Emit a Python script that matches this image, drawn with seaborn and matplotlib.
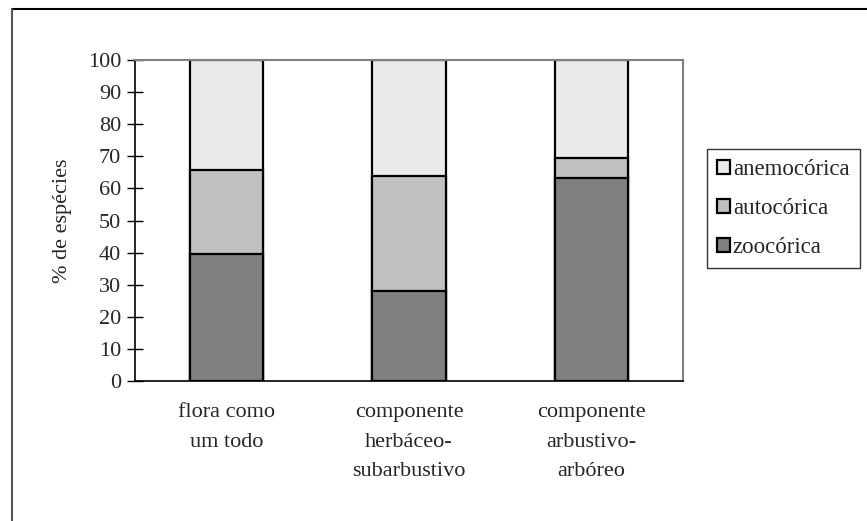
import pandas as pd
import numpy as np
import matplotlib.pyplot as plt
import seaborn as sns
from matplotlib.lines import Line2D
from matplotlib.patches import Patch

sns.set_style("white")
plt.rcParams["font.family"] = ["Liberation Serif", "DejaVu Serif"]

# Data
categories = ["flora como\num todo", "componente\nherbáceo-\nsubarbustivo", "componente\narbustivo-\narbóreo"]
zoocorica = [39.5, 28.0, 63.3]
autocorica = [26.3, 36.0, 6.2]
anemocorica = [34.2, 36.0, 30.5]

df = pd.DataFrame({
    "categoria": categories,
    "zoocórica": zoocorica,
    "autocórica": autocorica,
    "anemocórica": anemocorica,
})
df["top_auto"] = df["zoocórica"] + df["autocórica"]
df["top_anemo"] = df["top_auto"] + df["anemocórica"]

fig = plt.figure(figsize=(8.67, 5.21), dpi=100)
ax = fig.add_axes([0.1557, 0.2687, 0.6321, 0.6161])

colors = {"anemocórica": "#eaeaea", "autocórica": "#c0c0c0", "zoocórica": "#808080"}
bar_kw = dict(width=0.4, edgecolor="black", linewidth=1.6, ax=ax)

# stacked by drawing cumulative heights back to front
sns.barplot(data=df, x="categoria", y="top_anemo", color=colors["anemocórica"], saturation=1, **bar_kw)
sns.barplot(data=df, x="categoria", y="top_auto", color=colors["autocórica"], saturation=1, **bar_kw)
sns.barplot(data=df, x="categoria", y="zoocórica", color=colors["zoocórica"], saturation=1, **bar_kw)

ax.set_xlim(-0.5, 2.5)
ax.set_ylim(0, 100)
ax.set_yticks(np.arange(0, 101, 10))
ax.set_xlabel("")
ax.set_ylabel("% de espécies", fontsize=16, labelpad=11)

# x ticks at boundaries, labels centred under bars
ax.set_xticks([0, 1, 2])
ax.set_xticklabels(categories, fontsize=16, linespacing=1.75)
ax.tick_params(axis="x", length=0, pad=16)
ax.set_xticks([0.5, 1.5, 2.5], minor=True)
ax.tick_params(axis="x", which="minor", length=10, width=1, direction="inout", color="black")
ax.tick_params(axis="y", labelsize=16, length=12, width=1, direction="inout", pad=4, color="black", left=True)

for s in ["left", "bottom"]:
    ax.spines[s].set_color("black")
    ax.spines[s].set_linewidth(1.2)
for s in ["top", "right"]:
    ax.spines[s].set_color("#808080")
    ax.spines[s].set_linewidth(1.5)

handles = [Patch(facecolor=colors[k], edgecolor="black", linewidth=1.6, label=k)
           for k in ["anemocórica", "autocórica", "zoocórica"]]
leg = ax.legend(handles=handles, loc="upper left", bbox_to_anchor=(1.044, 0.723),
                fontsize=16.5, frameon=True, fancybox=False, handlelength=0.55,
                handleheight=0.55, handletextpad=0.12, labelspacing=0.78,
                borderpad=0.45, borderaxespad=0)
leg.get_frame().set_edgecolor("black")
leg.get_frame().set_linewidth(1)

# outer chart border (top and left visible)
fig.add_artist(Line2D([12 / 867, 1], [1 - 9 / 521, 1 - 9 / 521], color="black", lw=1.5, transform=fig.transFigure))
fig.add_artist(Line2D([12 / 867, 12 / 867], [0, 1 - 9 / 521], color="#555555", lw=1.5, transform=fig.transFigure))

fig.savefig("out.png", dpi=100)
